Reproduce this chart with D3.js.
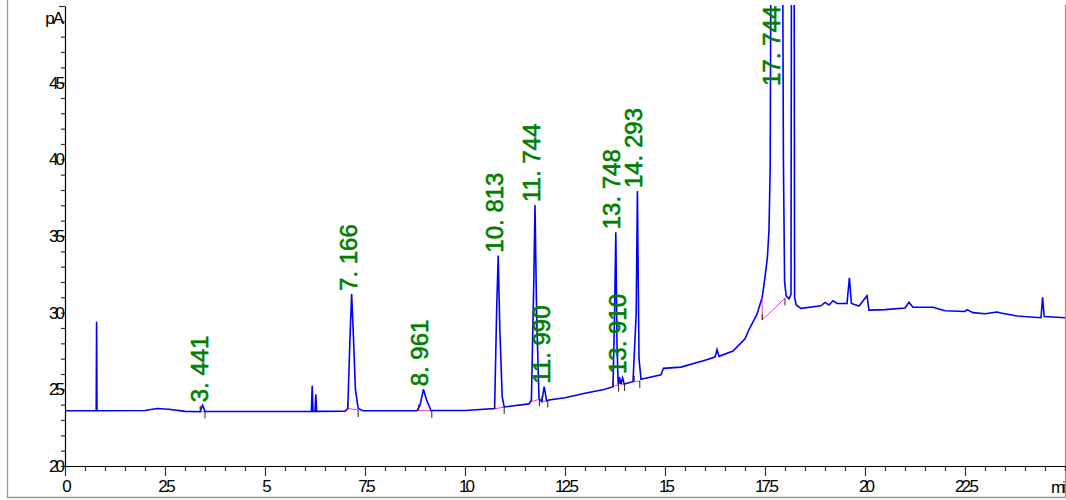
<!DOCTYPE html>
<html>
<head>
<meta charset="utf-8">
<title>chromatogram</title>
<style>
  body { margin: 0; background: #fff; }
  svg { display: block; }
</style>
</head>
<body>
<script src="https://cdn.jsdelivr.net/npm/d3@7/dist/d3.min.js"></script>
<script>
// detector trace: time (min) and signal (pA)
var traceTime = [0, 0.78, 0.79, 0.80, 2.0, 2.3, 2.6, 3.0, 3.38, 3.44, 3.50, 5.0,
  6.16, 6.18, 6.20, 6.25, 6.27, 6.29, 7.0, 7.07, 7.12, 7.166, 7.21, 7.26, 7.33, 7.45,
  8.8, 8.88, 8.96, 9.04, 9.15, 10.0, 10.74, 10.79, 10.83, 10.87, 10.93, 10.98,
  11.6, 11.66, 11.72, 11.75, 11.79, 11.85, 11.92, 11.98, 12.04, 12.1, 12.5, 13.0, 13.5,
  13.70, 13.74, 13.77, 13.80, 13.83, 13.86, 13.90, 13.94, 13.98, 14.2, 14.28, 14.31, 14.35, 14.40,
  14.9, 14.96, 15.4, 16.0, 16.25, 16.3, 16.35, 16.7, 17.0, 17.1, 17.3, 17.43, 17.5, 17.56,
  17.6, 17.63, 17.65, 17.744, 17.9, 17.94, 17.96, 17.99, 18.03, 18.1, 18.15, 18.17, 18.22,
  18.24, 18.28, 18.4, 18.9, 19.0, 19.1, 19.2, 19.3, 19.55, 19.61, 19.66, 19.85, 20.05, 20.1,
  20.5, 21.0, 21.1, 21.2, 21.7, 22.0, 22.5, 22.55, 22.7, 23.0, 23.3, 23.4, 23.8, 24.4,
  24.44, 24.48, 25.0];
var tracePA = [23.6, 23.6, 29.4, 23.6, 23.62, 23.75, 23.7, 23.56, 23.54, 23.96, 23.55, 23.55,
  23.56, 25.24, 23.56, 23.56, 24.68, 23.56, 23.58, 23.75, 28.0, 31.22, 28.5, 25.0, 23.75, 23.6,
  23.6, 24.0, 25.0, 24.3, 23.62, 23.62, 23.75, 30.0, 33.72, 29.0, 24.5, 23.85,
  24.05, 24.3, 32.0, 37.02, 30.0, 24.4, 24.2, 25.17, 24.25, 24.3, 24.45, 24.75, 25.0,
  25.17, 30.0, 35.24, 28.0, 25.3, 25.8, 25.35, 25.75, 25.35, 25.5, 30.0, 37.93, 27.0, 25.65,
  25.95, 26.37, 26.45, 26.9, 27.1, 27.6, 27.15, 27.5, 28.3, 28.9, 29.9, 31.0, 32.3, 33.6,
  35.4, 39.5, 55, 95, 80, 55, 40, 32.0, 31.1, 30.9, 31.2, 70, 70,
  31.0, 30.5, 30.28, 30.45, 30.67, 30.5, 30.78, 30.6, 30.6, 32.28, 30.6, 30.43, 31.1, 30.17,
  30.2, 30.3, 30.67, 30.35, 30.35, 30.12, 30.08, 30.2, 30.0, 29.93, 30.04, 29.98, 29.78, 29.67,
  31.0, 29.75, 29.67];

// integration results
var peakRT = [3.441, 7.166, 8.961, 10.813, 11.744, 11.990, 13.748, 13.910, 14.293, 17.744];
var peakLabel = ["3. 441", "7. 166", "8. 961", "10. 813", "11. 744", "11. 990", "13. 748", "13. 910", "14. 293", "17. 744"];
var peakTop = [23.96, 31.22, 25.0, 33.72, 37.02, 25.17, 35.24, 25.8, 37.93, 95];
var peakStart = [3.38, 7.07, 8.84, 10.74, 11.66, 11.93, 13.70, 13.87, 14.23, 17.43];
var peakEnd = [3.50, 7.33, 9.17, 10.98, 11.86, 12.07, 13.84, 13.99, 14.37, 18.0];
var baseStartPA = [23.54, 23.75, 23.62, 23.72, 24.2, 24.2, 25.17, 25.35, 25.5, 29.52];
var baseEndPA = [23.55, 23.65, 23.6, 23.85, 24.35, 24.27, 25.3, 25.35, 25.55, 30.94];

var xTicks = [0, 2.5, 5, 7.5, 10, 12.5, 15, 17.5, 20, 22.5];
var yTicks = [20, 25, 30, 35, 40, 45];

var width = 1066, height = 500;
var svg = d3.select("body").append("svg").attr("width", width).attr("height", height);

var x = d3.scaleLinear().domain([0, 25]).range([65, 1065]);
var y = d3.scaleLinear().domain([20, 50]).range([466, 6]);

var tickFont = "'Liberation Sans', Arial, sans-serif";

// outer frame (no top edge)
svg.append("path")
  .attr("d", "M7.5,0 V497.5 H1065.5 V5")
  .attr("fill", "none").attr("stroke", "#999").attr("stroke-width", 1.3);

svg.append("clipPath").attr("id", "plot")
  .append("rect").attr("x", 65).attr("y", 5).attr("width", 1000).attr("height", 470);
svg.append("clipPath").attr("id", "page")
  .append("rect").attr("x", 0).attr("y", 0).attr("width", 1064.5).attr("height", 500);

// x axis
var xAxis = svg.append("g")
  .attr("transform", "translate(0,466)")
  .call(d3.axisBottom(x).tickValues(d3.range(0, 25.01, 0.5)).tickSize(5).tickSizeOuter(0)
    .tickFormat(function (d) { return xTicks.indexOf(d) >= 0 ? String(d) : ""; }));
xAxis.select(".domain").attr("stroke", "#000").attr("stroke-width", 1.2);
xAxis.selectAll(".tick line").attr("stroke", "#333").attr("stroke-width", 1.2)
  .attr("y2", function (d) { return xTicks.indexOf(d) >= 0 ? 10 : 5; });
xAxis.selectAll(".tick text").attr("y", 14).attr("dy", "0.71em")
  .attr("font-family", tickFont).attr("font-size", 17).attr("letter-spacing", "-3px")
  .attr("fill", "#000");

svg.append("text").attr("clip-path", "url(#page)")
  .attr("x", 1051).attr("y", 493)
  .attr("font-family", tickFont).attr("font-size", 17).attr("letter-spacing", "-3px")
  .text("min");

// y axis
var yAxis = svg.append("g")
  .attr("transform", "translate(65,0)")
  .call(d3.axisLeft(y).tickValues(d3.range(20, 50.01, 1)).tickSize(4).tickSizeOuter(0)
    .tickFormat(function (d) { return yTicks.indexOf(d) >= 0 ? String(d) : ""; }));
yAxis.select(".domain").attr("stroke", "#000").attr("stroke-width", 1.2);
yAxis.selectAll(".tick line").attr("stroke", "#333").attr("stroke-width", 1.2)
  .attr("x2", function (d) { return d === 50 ? -6 : -4; });
yAxis.selectAll(".tick text").attr("x", -3)
  .attr("font-family", tickFont).attr("font-size", 17).attr("letter-spacing", "-3px")
  .attr("fill", "#000");

svg.append("text")
  .attr("x", 62).attr("y", 24).attr("text-anchor", "end")
  .attr("font-family", tickFont).attr("font-size", 17).attr("letter-spacing", "-2px")
  .text("pA");

var plot = svg.append("g").attr("clip-path", "url(#plot)");

// integration baselines
var peaks = d3.range(peakRT.length);
plot.selectAll(".base").data(peaks).enter().append("line")
  .attr("x1", function (i) { return x(peakStart[i]); })
  .attr("y1", function (i) { return y(baseStartPA[i]); })
  .attr("x2", function (i) { return x(peakEnd[i]); })
  .attr("y2", function (i) { return y(baseEndPA[i]); })
  .attr("stroke", "#ff33cc").attr("stroke-width", 1);

// trace
var pts = traceTime.map(function (t, i) { return [t, tracePA[i]]; });
plot.append("path").datum(pts)
  .attr("fill", "none").attr("stroke", "#0000ff").attr("stroke-width", 1.6)
  .attr("d", d3.line().x(function (d) { return x(d[0]); }).y(function (d) { return y(d[1]); }));

// drop line for the big peak start
var last = peakRT.length - 1;
plot.append("line")
  .attr("x1", x(peakStart[last])).attr("x2", x(peakStart[last]))
  .attr("y1", y(31.0)).attr("y2", y(baseStartPA[last]))
  .attr("stroke", "#ff33cc").attr("stroke-width", 1);

// start / end markers
plot.selectAll(".tstart").data(peaks).enter().append("line")
  .attr("x1", function (i) { return x(peakStart[i]); })
  .attr("x2", function (i) { return x(peakStart[i]); })
  .attr("y1", function (i) { return y(baseStartPA[i]) - 6; })
  .attr("y2", function (i) { return y(baseStartPA[i]); })
  .attr("stroke", "#222").attr("stroke-width", 1);
plot.selectAll(".tend").data(peaks).enter().append("line")
  .attr("x1", function (i) { return x(peakEnd[i]); })
  .attr("x2", function (i) { return x(peakEnd[i]); })
  .attr("y1", function (i) { return y(baseEndPA[i]); })
  .attr("y2", function (i) { return y(baseEndPA[i]) + 7; })
  .attr("stroke", "#222").attr("stroke-width", 1);

// retention time labels
svg.selectAll(".rt").data(peaks).enter().append("text")
  .attr("transform", function (i) {
    var ty = Math.max(y(peakTop[i]) - 3, 86);
    return "translate(" + (x(peakRT[i]) + 5) + "," + ty + ") rotate(-90)";
  })
  .attr("font-family", "'Liberation Sans', Arial, sans-serif")
  .attr("font-size", 24)
  .attr("fill", "#008000")
  .attr("stroke", "#008000").attr("stroke-width", 0.6)
  .text(function (i) { return peakLabel[i]; });
</script>
</body>
</html>
